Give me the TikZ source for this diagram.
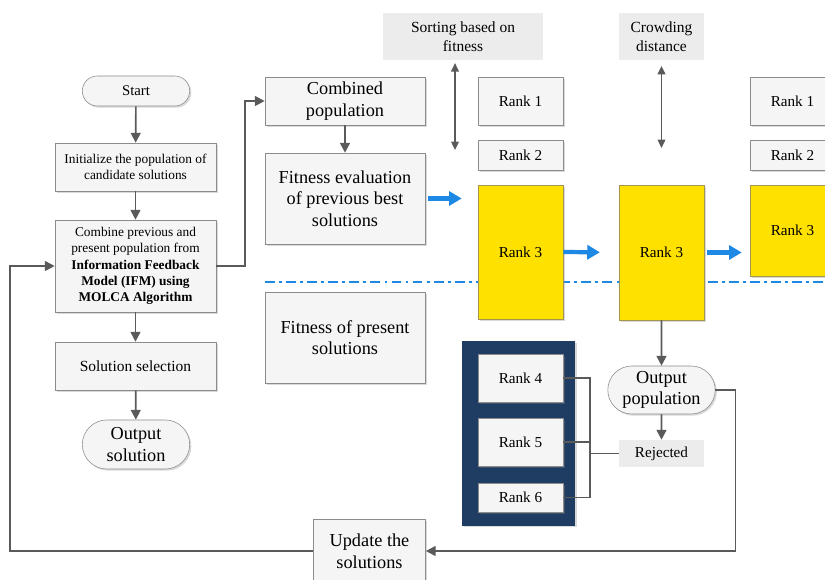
\documentclass[tikz,border=0pt]{standalone}
\usepackage{fontspec}
\setmainfont{Liberation Serif}
\usetikzlibrary{arrows.meta, positioning, shapes.misc, shadows}
\definecolor{boxfill}{HTML}{F5F5F5}
\definecolor{boxline}{HTML}{8C8C8C}
\definecolor{flowgray}{HTML}{5A5A5A}
\definecolor{notefill}{HTML}{ECECEC}
\definecolor{rankyellow}{HTML}{FFE100}
\definecolor{yellowline}{HTML}{A39550}
\definecolor{navy}{HTML}{1F3D63}
\definecolor{flowblue}{HTML}{1E88E5}
\newcommand{\smallfont}{\fontsize{9.5}{11.5}\selectfont}
\newcommand{\rankfont}{\fontsize{10.8}{13}\selectfont}
\newcommand{\notefont}{\fontsize{11}{13.5}\selectfont}
\newcommand{\bigfont}{\fontsize{13}{15.4}\selectfont}
\tikzset{
  procbox/.style={draw=boxline, fill=boxfill, align=center, inner sep=2pt,
    drop shadow={shadow xshift=1.2pt, shadow yshift=-1.2pt, opacity=0.3}},
  termbox/.style={procbox, rounded rectangle},
  rankbox/.style={procbox, minimum width=2.125cm, font=\rankfont},
  topbox/.style={rankbox, fill=rankyellow, draw=yellowline},
  notebox/.style={fill=notefill, align=center, font=\notefont},
  flow/.style={-{Triangle[length=7pt,width=7pt]}, draw=flowgray, line width=1.2pt},
  link/.style={draw=flowgray, line width=1.2pt},
  twoway/.style={{Triangle[length=6pt,width=5.5pt]}-{Triangle[length=6pt,width=5.5pt]},
    draw=flowgray, line width=1pt},
  bluearrow/.style={-{Triangle[length=9pt,width=10pt]}, draw=flowblue, line width=3pt},
  divider/.style={draw=flowblue, line width=1.2pt, dash pattern=on 7pt off 3pt on 2pt off 3pt}
}

\begin{document}
\begin{tikzpicture}[x=0.025cm, y=-0.025cm]
  \clip (0,0) rectangle (825,580);
  % Dividing line between previous and present solutions
  \coordinate (divL) at (265,282);
  \coordinate (divR) at (825,282);
  \draw[divider] (divL) -- (divR);
  % Main flow on the left
  \node[termbox, minimum width=2.825cm, minimum height=0.75cm, font=\fontsize{10.5}{12}\selectfont]
        (start) at (136,91) {Start};
  \node[procbox, minimum width=4.025cm, minimum height=1.2cm, font=\smallfont]
        (init) at (135.5,167) {Initialize the population of\\candidate solutions};
  \node[procbox, minimum width=4.025cm, minimum height=2.3cm, font=\smallfont]
        (combine) at (135.5,266) {Combine previous and\\present population from\\
        \textbf{Information Feedback}\\\textbf{Model (IFM) using}\\\textbf{MOLCA Algorithm}};
  \node[procbox, minimum width=4.025cm, minimum height=1.2cm, font=\notefont]
        (select) at (135.5,366) {Solution selection};
  \node[termbox, minimum width=2.825cm, minimum height=1.225cm, font=\bigfont]
        (outsol) at (136,444.5) {Output\\solution};
  % Populations
  \node[procbox, minimum width=4cm, minimum height=1.2cm, font=\bigfont]
        (combpop) at (345,101) {Combined\\population};
  \node[procbox, minimum width=4cm, minimum height=2.275cm, font=\bigfont]
        (fiteval) at (345,198.5) {Fitness evaluation\\of previous best\\solutions};
  \node[procbox, minimum width=4cm, minimum height=2.275cm, font=\bigfont]
        (fitpres) at (345,337.5) {Fitness of present\\solutions};
  % Sorting stages
  \node[notebox, minimum width=4cm, minimum height=1.175cm] (sort) at (463,36.5)
        {Sorting based on\\fitness};
  \node[notebox, minimum width=2.125cm, minimum height=1.175cm] (crowd) at (661.5,36.5)
        {Crowding\\distance};
  \node[rankbox, minimum height=1.2cm] (r1a) at (520.5,101) {Rank 1};
  \node[rankbox, minimum height=0.75cm] (r2a) at (520.5,155) {Rank 2};
  \node[topbox, minimum height=3.35cm] (r3a) at (520.5,252) {Rank 3};
  \node[topbox, minimum height=3.375cm] (r3b) at (661.5,252.5) {Rank 3};
  \node[rankbox, minimum height=1.2cm] (r1c) at (792.5,101) {Rank 1};
  \node[rankbox, minimum height=0.75cm] (r2c) at (792.5,155) {Rank 2};
  \node[topbox, minimum height=2.275cm] (r3c) at (792.5,230.5) {Rank 3};
  % Lower ranks
  \node[fill=navy, minimum width=2.825cm, minimum height=4.6cm,
        drop shadow={shadow xshift=1.2pt, shadow yshift=-1.2pt, opacity=0.3}]
        (pool) at (518.5,433.5) {};
  \node[rankbox, minimum height=1.2cm] (r4) at (520.5,378) {Rank 4};
  \node[rankbox, minimum height=1.2cm] (r5) at (520.5,442) {Rank 5};
  \node[rankbox, minimum height=0.725cm] (r6) at (520.5,497.5) {Rank 6};
  \node[termbox, minimum width=2.825cm, minimum height=1.2cm, font=\bigfont]
        (outpop) at (661.5,390) {Output\\population};
  \node[notebox, minimum width=2.125cm, minimum height=0.675cm, font=\rankfont]
        (rej) at (661.5,453.5) {Rejected};
  \node[procbox, minimum width=2.8cm, minimum height=1.6cm, font=\bigfont]
        (update) at (369.5,551) {Update the\\solutions};
  % Arrows
  \draw[flow] (start) -- (init);
  \draw[flow] (init) -- (combine);
  \draw[flow] (combine) -- (select);
  \draw[flow] (select) -- (outsol);
  \coordinate (jog) at (245,0);
  \draw[flow] (combine.east) -- (combine.east -| jog) |- (combpop.west);
  \draw[flow] (combpop) -- (fiteval);
  \coordinate (loopL) at (10,266);
  \draw[flow] (update.west) -| (loopL) -- (combine.west);
  \draw[flow] (r3b) -- (outpop);
  \draw[flow] (outpop) -- (rej);
  \draw[flow] (outpop.east) -- ++(20,0) |- (update.east);
  % Blue arrows
  \draw[bluearrow, shorten <=2pt, shorten >=0.4cm] (fiteval.east) -- (fiteval.east -| r3a.west);
  \draw[bluearrow, shorten >=0.47cm] (r3a.east) -- (r3b.west);
  \draw[bluearrow, shorten <=2pt, shorten >=0.2cm] (r3b.east) -- (r3b.east -| r3c.west);
  % Sorting ranges
  \coordinate (sortend) at (455,150);
  \draw[twoway] ([yshift=-2pt]sort.south -| sortend) -- (sortend);
  \coordinate (crowdend) at (661.5,148);
  \draw[twoway] ([yshift=-4pt]crowd.south) -- (crowdend);
  % Rejected ranks
  \coordinate (brk) at (590,0);
  \draw[link] (r4.east) -- (r4.east -| brk) |- (r6.east);
  \draw[link] (r5.east) -- (r5.east -| brk);
  \draw[link] (rej.west) -- (rej.west -| brk);
\end{tikzpicture}
\end{document}
